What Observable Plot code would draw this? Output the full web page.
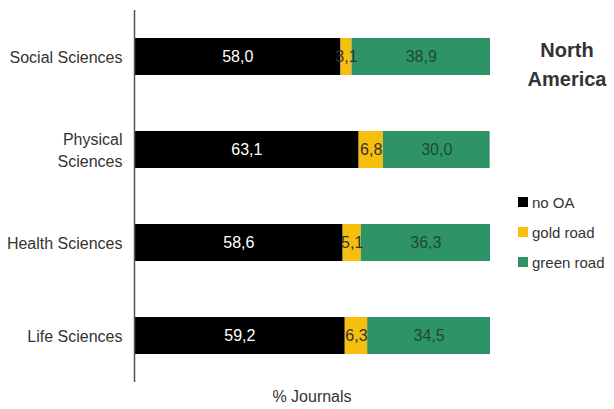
<!DOCTYPE html>
<html>
<head>
<meta charset="utf-8">
<script src="https://cdn.jsdelivr.net/npm/d3@7"></script>
<script src="https://cdn.jsdelivr.net/npm/@observablehq/plot@0.6"></script>
<style>
  html, body { margin: 0; padding: 0; background: #fff; }
  #wrap { position: relative; width: 614px; height: 409px; font-family: "Liberation Sans", Arial, sans-serif; }
  #title { position: absolute; left: 515px; top: 36px; width: 104px; text-align: center; font-size: 20px; font-weight: bold; color: #333; line-height: 29px; }
  #legend { position: absolute; left: 518px; top: 187px; font-size: 15px; color: #333; }
  #legend .row { display: flex; align-items: center; height: 30px; }
  #legend .sw { width: 10px; height: 10px; margin-right: 4px; }
  #xlabel { position: absolute; left: 134px; width: 356px; top: 388px; text-align: center; font-size: 16px; color: #333; }
</style>
</head>
<body>
<div id="wrap"></div>
<script>
const categories = ["Social Sciences", "Physical Sciences", "Health Sciences", "Life Sciences"];
const seriesNames = ["no OA", "gold road", "green road"];
const noOA = [58.0, 63.1, 58.6, 59.2];
const goldRoad = [3.1, 6.8, 5.1, 6.3];
const greenRoad = [38.9, 30.0, 36.3, 34.5];
const colors = ["#000000", "#f7be0e", "#2e9467"];
const labelColors = ["#ffffff", "#333333", "#1e4a30"];
const title = ["North", "America"];
const xLabel = "% Journals";

const seriesValues = [noOA, goldRoad, greenRoad];
const data = [];
categories.forEach((c, i) => {
  seriesNames.forEach((s, j) => {
    data.push({category: c, type: s, value: seriesValues[j][i], tcolor: labelColors[j]});
  });
});

const fmt = v => v.toFixed(1).replace(".", ",");

const chart = Plot.plot({
  width: 614,
  height: 409,
  marginLeft: 134,
  marginRight: 124,
  marginTop: 10,
  marginBottom: 27,
  style: {fontFamily: "'Liberation Sans', Arial, sans-serif", fontSize: "16px", color: "#333", background: "#fff"},
  x: {domain: [0, 100], axis: null},
  y: {domain: categories, paddingInner: 0.6, paddingOuter: 0.3, label: null, axis: null},
  color: {domain: seriesNames, range: colors},
  marks: [
    Plot.axisY({tickSize: 0, tickPadding: 12, lineHeight: 1.4, fontSize: 16, dy: -1, label: null,
      tickFormat: d => d === "Physical Sciences" ? "Physical\nSciences" : d}),
    Plot.barX(data, Plot.stackX({x: "value", y: "category", fill: "type", order: seriesNames})),
    Plot.text(data, Plot.stackX({x: "value", y: "category", z: "type", order: seriesNames,
      text: d => fmt(d.value), fill: "tcolor", fontSize: 16})),
    Plot.ruleX([0], {stroke: "#555", strokeWidth: 1.5})
  ]
});

const wrap = document.getElementById("wrap");
wrap.appendChild(chart);

const t = document.createElement("div");
t.id = "title";
t.innerHTML = title.join("<br>");
wrap.appendChild(t);

const lg = document.createElement("div");
lg.id = "legend";
seriesNames.forEach((s, j) => {
  const r = document.createElement("div");
  r.className = "row";
  const sw = document.createElement("span");
  sw.className = "sw";
  sw.style.background = colors[j];
  const tx = document.createElement("span");
  tx.textContent = s;
  r.appendChild(sw); r.appendChild(tx);
  lg.appendChild(r);
});
wrap.appendChild(lg);

const xl = document.createElement("div");
xl.id = "xlabel";
xl.textContent = xLabel;
wrap.appendChild(xl);
</script>
</body>
</html>
